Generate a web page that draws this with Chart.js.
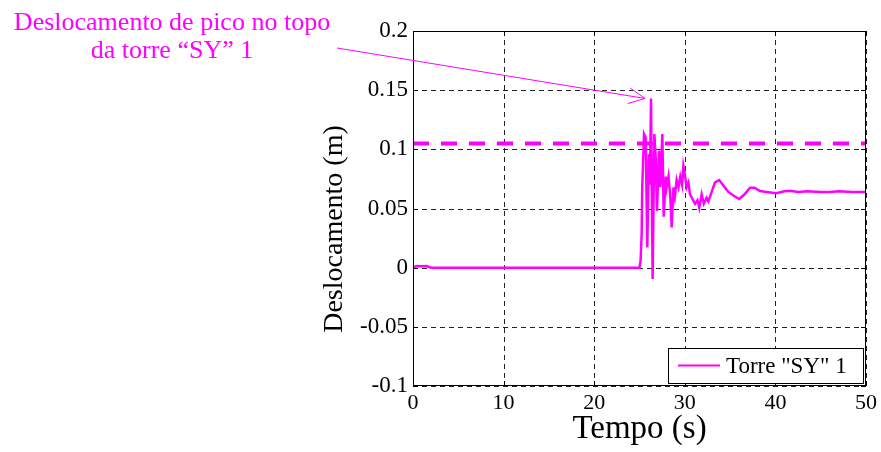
<!DOCTYPE html>
<html lang="pt">
<head>
  <meta charset="UTF-8" />
  <title>Deslocamento Torre SY 1</title>
  <script src="https://cdn.jsdelivr.net/npm/chart.js"></script>
  <style>
    html, body { margin: 0; padding: 0; background: #fff; overflow: hidden; }
  </style>
</head>
<body>
  <canvas id="chart" width="881" height="452"></canvas>

  <script>
    // time (s) and displacement (m)
    const tempo = [0, 0.5, 1.0, 1.5, 2.0, 25.0, 25.12, 25.24, 25.3, 25.5, 25.68, 25.86, 26.04, 26.15, 26.27,
      26.45, 26.64, 26.79, 26.93, 27.15, 27.3, 27.52, 27.67, 27.9, 28.0, 28.2, 28.4, 28.55, 28.75, 28.9,
      29.1, 29.3, 29.5, 29.7, 29.84, 30.0, 30.2, 30.4, 30.57, 30.85, 31.13, 31.4, 31.6, 31.86, 32.1,
      32.4, 32.6, 32.97, 33.33, 33.8, 34.3, 34.8, 35.36, 36.0, 36.6, 37.2, 37.7, 38.3, 39.0, 40.1,
      41.0, 41.6, 42.5, 43.5, 45, 46, 47, 48.5, 50];
    const deslocamento = [0.0005, 0.0014, 0.0012, 0.0014, 0, 0, 0.006, 0.0285, 0.068, 0.113, 0.11, 0.017, 0.096, 0.07, 0.143,
      -0.0096, 0.113, 0.093, 0.048, 0.099, 0.068, 0.113, 0.043, 0.077, 0.068, 0.077, 0.06, 0.034, 0.068, 0.06,
      0.074, 0.068, 0.077, 0.07, 0.086, 0.079, 0.068, 0.072, 0.062, 0.058, 0.054, 0.057, 0.0506, 0.062, 0.054,
      0.059, 0.056, 0.064, 0.072, 0.074, 0.069, 0.064, 0.061, 0.058, 0.062, 0.0675, 0.0675, 0.0647, 0.064, 0.063,
      0.0645, 0.065, 0.064, 0.0645, 0.064, 0.064, 0.0645, 0.064, 0.064];
    const limite = 0.105;          // dashed reference level
    const picoT = 26.27, picoD = 0.143;
    const serieLabel = 'Torre "SY" 1';
    const notaLinhas = ['Deslocamento de pico no topo', 'da torre \u201cSY\u201d 1'];
    const tituloY = 'Deslocamento (m)';

    const MAG = '#ff00ff';
    const FONT = "'Liberation Serif', 'Times New Roman', serif";

    // dashed grid (matlab style) under the data
    const grade = {
      id: 'grade',
      beforeDatasetsDraw(chart) {
        const { ctx, chartArea: a, scales: { x, y } } = chart;
        ctx.save();
        ctx.strokeStyle = '#222';
        ctx.lineWidth = 1;
        ctx.setLineDash([5, 4]);
        ctx.beginPath();
        x.ticks.forEach(t => {
          const px = Math.round(x.getPixelForValue(t.value)) + 0.5;
          ctx.moveTo(px, a.top); ctx.lineTo(px, a.bottom);
        });
        y.ticks.forEach(t => {
          const py = Math.round(y.getPixelForValue(t.value)) + 0.5;
          ctx.moveTo(a.left, py); ctx.lineTo(a.right, py);
        });
        ctx.stroke();
        ctx.restore();
      }
    };

    // box, inner ticks, legend, y title and annotation arrow
    const extras = {
      id: 'extras',
      afterDatasetsDraw(chart) {
        const { ctx, chartArea: a, scales: { x, y } } = chart;
        ctx.save();
        ctx.strokeStyle = '#000';
        ctx.lineWidth = 1;
        ctx.strokeRect(a.left + 0.5, a.top + 0.5, a.right - a.left - 1, a.bottom - a.top - 1);
        ctx.beginPath();
        x.ticks.forEach(t => {
          const px = Math.round(x.getPixelForValue(t.value)) + 0.5;
          ctx.moveTo(px, a.bottom); ctx.lineTo(px, a.bottom - 5);
          ctx.moveTo(px, a.top); ctx.lineTo(px, a.top + 5);
        });
        y.ticks.forEach(t => {
          const py = Math.round(y.getPixelForValue(t.value)) + 0.5;
          ctx.moveTo(a.left, py); ctx.lineTo(a.left + 5, py);
          ctx.moveTo(a.right, py); ctx.lineTo(a.right - 5, py);
        });
        ctx.stroke();

        // legend
        const lw = 195, lh = 35;
        const lx = a.right - lw - 3, ly = a.bottom - lh - 3;
        ctx.fillStyle = '#fff';
        ctx.fillRect(lx, ly, lw, lh);
        ctx.strokeRect(lx + 0.5, ly + 0.5, lw, lh);
        ctx.strokeStyle = MAG; ctx.lineWidth = 2;
        ctx.beginPath(); ctx.moveTo(lx + 10, ly + lh / 2); ctx.lineTo(lx + 52, ly + lh / 2); ctx.stroke();
        ctx.fillStyle = '#000';
        ctx.font = '23px ' + FONT;
        ctx.textBaseline = 'middle';
        ctx.fillText(serieLabel, lx + 58, ly + lh / 2 + 1);

        // y axis title
        ctx.save();
        ctx.translate(a.left - 78, a.top + 198);
        ctx.rotate(-Math.PI / 2);
        ctx.textAlign = 'center';
        ctx.font = '28px ' + FONT;
        ctx.fillText(tituloY, 0, 0);
        ctx.restore();

        // annotation
        const tipX = x.getPixelForValue(picoT) - 6, tipY = y.getPixelForValue(picoD);
        const sx = a.left - 76, sy = a.top + 17;
        ctx.strokeStyle = MAG; ctx.lineWidth = 1;
        ctx.beginPath(); ctx.moveTo(sx, sy); ctx.lineTo(tipX, tipY); ctx.stroke();
        const ang = Math.atan2(tipY - sy, tipX - sx);
        ctx.beginPath();
        ctx.moveTo(tipX - 18 * Math.cos(ang - 0.45), tipY - 18 * Math.sin(ang - 0.45));
        ctx.lineTo(tipX, tipY);
        ctx.lineTo(tipX - 18 * Math.cos(ang + 0.45), tipY - 18 * Math.sin(ang + 0.45));
        ctx.stroke();
        ctx.fillStyle = MAG;
        ctx.font = '26px ' + FONT;
        ctx.textAlign = 'center';
        ctx.textBaseline = 'alphabetic';
        ctx.fillText(notaLinhas[0], a.left - 241, a.top - 1);
        ctx.fillText(notaLinhas[1], a.left - 241, a.top + 27);
        ctx.restore();
      }
    };

    new Chart(document.getElementById('chart'), {
      type: 'line',
      data: {
        datasets: [
          {
            data: tempo.map((t, i) => ({ x: t, y: deslocamento[i] })),
            borderColor: MAG, borderWidth: 2.5, pointRadius: 0, tension: 0, order: 2
          },
          {
            data: [{ x: 0, y: limite }, { x: 50, y: limite }],
            borderColor: MAG, borderWidth: 4, borderDash: [16, 12], pointRadius: 0, order: 1
          }
        ]
      },
      options: {
        responsive: false,
        animation: false,
        devicePixelRatio: 1,
        layout: { padding: { left: 318, top: 31, right: 15, bottom: 0 } },
        plugins: { legend: { display: false }, tooltip: { enabled: false } },
        scales: {
          x: {
            type: 'linear', min: 0, max: 50,
            ticks: { stepSize: 10, color: '#000', font: { family: FONT, size: 22 }, padding: 4, maxRotation: 0 },
            grid: { display: false, drawTicks: false },
            border: { display: false },
            title: { display: true, text: 'Tempo (s)', color: '#000', font: { family: FONT, size: 33 }, padding: { top: 0, bottom: 3 } },
            afterFit(s) { s.height = 66; }
          },
          y: {
            min: -0.1, max: 0.2,
            ticks: { stepSize: 0.05, color: '#000', font: { family: FONT, size: 23 }, padding: 5,
              callback: v => String(Math.round(v * 100) / 100) },
            grid: { display: false, drawTicks: false },
            border: { display: false },
            afterFit(s) { s.width = 95; }
          }
        }
      },
      plugins: [grade, extras]
    });
  </script>
</body>
</html>
